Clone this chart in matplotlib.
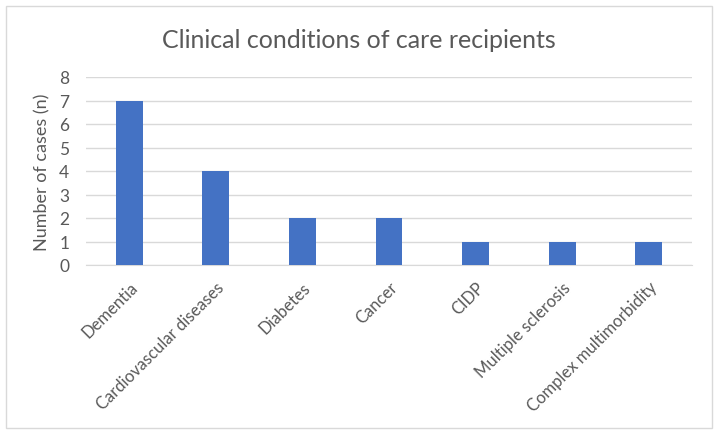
import matplotlib.pyplot as plt
from matplotlib.patches import Rectangle
from matplotlib.transforms import ScaledTranslation

categories = ['Dementia', 'Cardiovascular diseases', 'Diabetes', 'Cancer',
              'CIDP', 'Multiple sclerosis', 'Complex multimorbidity']
cases = [7, 4, 2, 2, 1, 1, 1]
y_ticks = [0, 1, 2, 3, 4, 5, 6, 7, 8]

plt.rcParams['font.family'] = ['Lato', 'DejaVu Sans']
text_col = '#595959'

fig = plt.figure(figsize=(7.18, 4.35), dpi=100)
ax = fig.add_axes([86 / 718, 1 - 266 / 435, (692 - 86) / 718, (266 - 78) / 435])

x = range(len(categories))
ax.bar(x, cases, width=0.31, color='#4472C4', zorder=3)

ax.set_xlim(-0.5, len(categories) - 0.5)
ax.set_ylim(0, 8)
ax.set_yticks(y_ticks)
ax.set_xticks(list(x))
ax.set_xticklabels(categories, rotation=45, ha='right', rotation_mode='anchor',
                   fontsize=12, color=text_col)
# nudge the rotated labels a little to the left
shift = ScaledTranslation(-0.06, 0, fig.dpi_scale_trans)
for lab in ax.get_xticklabels():
    lab.set_transform(lab.get_transform() + shift)
ax.tick_params(axis='y', labelsize=12.5, colors=text_col, length=0, pad=12)
ax.tick_params(axis='x', length=0, pad=10)
ax.grid(axis='y', color='#D9D9D9', linewidth=1, zorder=0)
for s in ['top', 'right', 'left']:
    ax.spines[s].set_visible(False)
ax.spines['bottom'].set_color('#D9D9D9')

ax.set_ylabel('Number of cases (n)', fontsize=13, color=text_col, labelpad=6)
fig.text(0.5, 1 - 40 / 435, 'Clinical conditions of care recipients',
         ha='center', va='center', fontsize=18, color=text_col)

# outer chart border
fig.patches.append(Rectangle((6 / 718, 6 / 435), 706 / 718, 422 / 435,
                             transform=fig.transFigure, fill=False,
                             edgecolor='#D9D9D9', linewidth=1))

fig.savefig('out.png', dpi=100)
